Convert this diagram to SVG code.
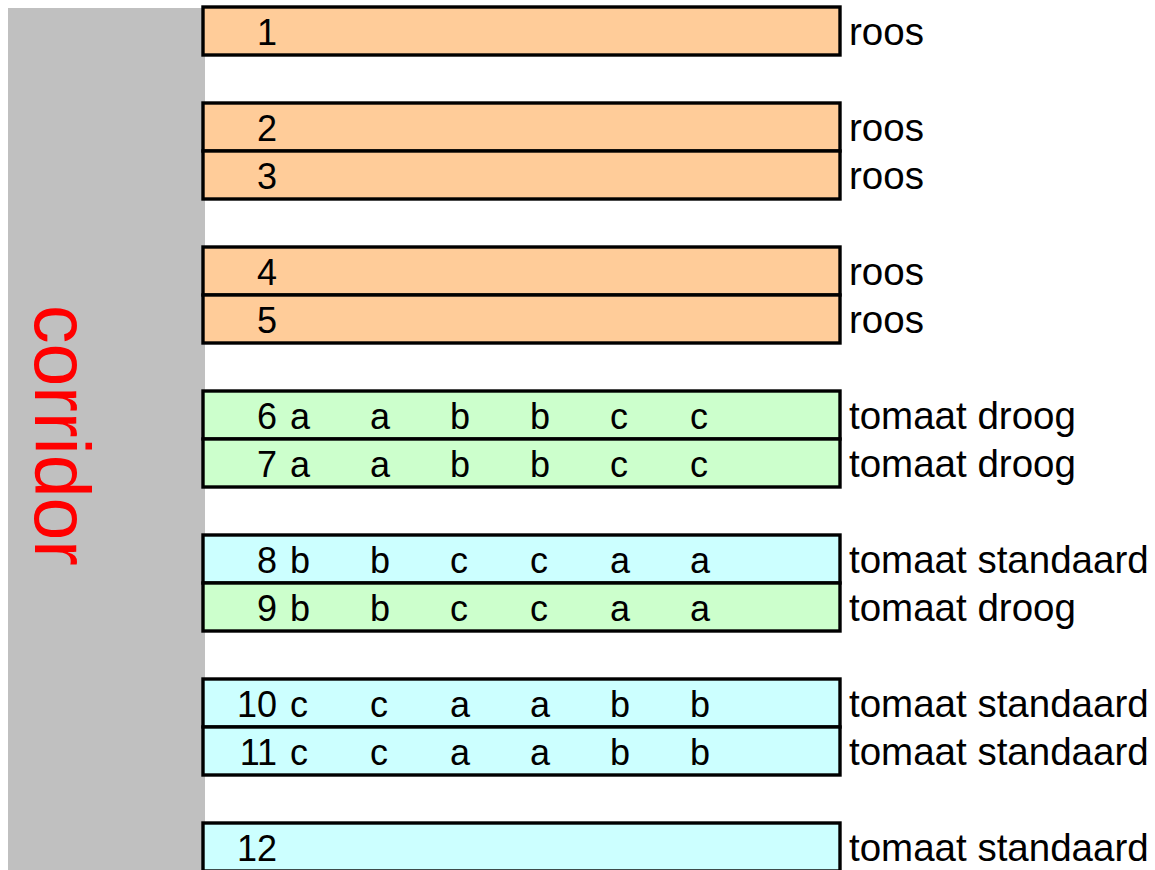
<svg xmlns="http://www.w3.org/2000/svg" width="1155" height="870" viewBox="0 0 1155 870">
<style>
.bed{stroke:#000;stroke-width:3.4}
.roos{fill:#FFCC99}
.droog{fill:#CCFFCC}
.std{fill:#CCFFFF}
.t{font-family:"Liberation Sans",Arial,sans-serif;font-size:36px;fill:#000}
.n{text-anchor:end}
.lbl{font-family:"Liberation Sans",Arial,sans-serif;font-size:38.5px;fill:#000}
</style>
<rect width="1155" height="870" fill="#fff"/>
<g id="corridor">
<rect x="8" y="8" width="197" height="862" fill="#C0C0C0"/>
<text transform="translate(35,305) rotate(90)" font-family="'Liberation Sans',Arial,sans-serif" font-size="77" fill="#FF0000">corridor</text>
</g>
<g id="bed1"><rect class="bed roos" x="203" y="7" width="637" height="48"/><text class="t n" x="277" y="45">1</text><text class="lbl" x="849" y="45">roos</text></g>
<g id="bed2"><rect class="bed roos" x="203" y="103" width="637" height="48"/><text class="t n" x="277" y="141">2</text><text class="lbl" x="849" y="141">roos</text></g>
<g id="bed3"><rect class="bed roos" x="203" y="151" width="637" height="48"/><text class="t n" x="277" y="189">3</text><text class="lbl" x="849" y="189">roos</text></g>
<g id="bed4"><rect class="bed roos" x="203" y="247" width="637" height="48"/><text class="t n" x="277" y="285">4</text><text class="lbl" x="849" y="285">roos</text></g>
<g id="bed5"><rect class="bed roos" x="203" y="295" width="637" height="48"/><text class="t n" x="277" y="333">5</text><text class="lbl" x="849" y="333">roos</text></g>
<g id="bed6"><rect class="bed droog" x="203" y="391" width="637" height="48"/><text class="t n" x="277" y="429">6</text>
<text class="t" y="429"><tspan x="290">a</tspan><tspan x="370">a</tspan><tspan x="450">b</tspan><tspan x="530">b</tspan><tspan x="610">c</tspan><tspan x="690">c</tspan></text>
<text class="lbl" x="849" y="429">tomaat droog</text></g>
<g id="bed7"><rect class="bed droog" x="203" y="439" width="637" height="48"/><text class="t n" x="277" y="477">7</text>
<text class="t" y="477"><tspan x="290">a</tspan><tspan x="370">a</tspan><tspan x="450">b</tspan><tspan x="530">b</tspan><tspan x="610">c</tspan><tspan x="690">c</tspan></text>
<text class="lbl" x="849" y="477">tomaat droog</text></g>
<g id="bed8"><rect class="bed std" x="203" y="535" width="637" height="48"/><text class="t n" x="277" y="573">8</text>
<text class="t" y="573"><tspan x="290">b</tspan><tspan x="370">b</tspan><tspan x="450">c</tspan><tspan x="530">c</tspan><tspan x="610">a</tspan><tspan x="690">a</tspan></text>
<text class="lbl" x="849" y="573">tomaat standaard</text></g>
<g id="bed9"><rect class="bed droog" x="203" y="583" width="637" height="48"/><text class="t n" x="277" y="621">9</text>
<text class="t" y="621"><tspan x="290">b</tspan><tspan x="370">b</tspan><tspan x="450">c</tspan><tspan x="530">c</tspan><tspan x="610">a</tspan><tspan x="690">a</tspan></text>
<text class="lbl" x="849" y="621">tomaat droog</text></g>
<g id="bed10"><rect class="bed std" x="203" y="679" width="637" height="48"/><text class="t n" x="277" y="717">10</text>
<text class="t" y="717"><tspan x="290">c</tspan><tspan x="370">c</tspan><tspan x="450">a</tspan><tspan x="530">a</tspan><tspan x="610">b</tspan><tspan x="690">b</tspan></text>
<text class="lbl" x="849" y="717">tomaat standaard</text></g>
<g id="bed11"><rect class="bed std" x="203" y="727" width="637" height="48"/><text class="t n" x="277" y="765">11</text>
<text class="t" y="765"><tspan x="290">c</tspan><tspan x="370">c</tspan><tspan x="450">a</tspan><tspan x="530">a</tspan><tspan x="610">b</tspan><tspan x="690">b</tspan></text>
<text class="lbl" x="849" y="765">tomaat standaard</text></g>
<g id="bed12"><rect class="bed std" x="203" y="823" width="637" height="48"/><text class="t n" x="277" y="861">12</text><text class="lbl" x="849" y="861">tomaat standaard</text></g>
<g id="connectors"></g>
</svg>
